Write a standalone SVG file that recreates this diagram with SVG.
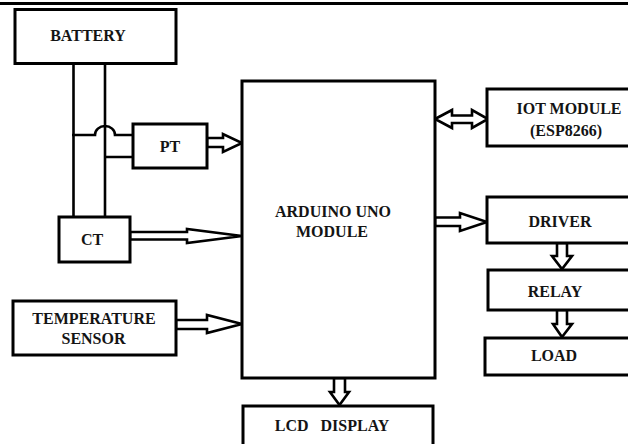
<svg xmlns="http://www.w3.org/2000/svg" width="628" height="444" viewBox="0 0 628 444">
<style>
.box{fill:#fff;stroke:#000;stroke-width:3}
.wire{fill:none;stroke:#000;stroke-width:2.6}
.arr{fill:#fff;stroke:#000;stroke-width:2.6;stroke-linejoin:miter}
text{font-family:"Liberation Serif","Times New Roman",serif;font-weight:bold;font-size:16px;fill:#141414;text-anchor:middle}
</style>
<rect width="628" height="444" fill="#fff"/>
<line x1="0" y1="3.5" x2="628" y2="3.5" stroke="#000" stroke-width="3"/>
<g id="connectors">
<path class="wire" d="M73.5,63 V217 M105,63 V217 M72,135 H95 A10,9 0 0 1 115,135 H133 M105,157 H133"/>
<polygon class="arr" points="207,138 223,138 223,134 242,143 223,152 223,147 207,147"/>
<polygon class="arr" points="130,232 187,232 187,229 242,236 187,243 187,239.5 130,239.5"/>
<polygon class="arr" points="176,320 207,320 207,315 242,324 207,333 207,329 176,329"/>
<polygon class="arr" points="435,119 452,110 452,115.5 472,115.5 472,110 488,119 472,128 472,123 452,123 452,128"/>
<polygon class="arr" points="435,217.5 460,217.5 460,213 487,222 460,231 460,226 435,226"/>
<polygon class="arr" points="557,243 567,243 567,256 572,256 562,269 552,256 557,256"/>
<polygon class="arr" points="557,310 567,310 567,324 572,324 562,337 553,324 557,324"/>
<polygon class="arr" points="334,378 345,378 345,392 349,392 339.5,405 330,392 334,392"/>
</g>
<g id="battery"><rect class="box" x="15" y="9.5" width="161" height="54"/><text x="88" y="41">BATTERY</text></g>
<g id="pt"><rect class="box" x="133" y="124" width="74" height="44"/><text x="170" y="152">PT</text></g>
<g id="ct"><rect class="box" x="59" y="217" width="71" height="45"/><text x="92" y="245">CT</text></g>
<g id="temperature-sensor"><rect class="box" x="13" y="301" width="163" height="54"/><text x="94" y="324">TEMPERATURE</text><text x="93.5" y="344">SENSOR</text></g>
<g id="arduino"><rect class="box" x="242" y="81" width="193" height="297"/><text x="333" y="217">ARDUINO UNO</text><text x="332" y="237">MODULE</text></g>
<g id="iot"><rect class="box" x="487" y="89" width="160" height="57"/><text x="569" y="114">IOT MODULE</text><text x="566" y="136">(ESP8266)</text></g>
<g id="driver"><rect class="box" x="487" y="197" width="160" height="46"/><text x="560" y="226.5">DRIVER</text></g>
<g id="relay"><rect class="box" x="488" y="270" width="160" height="40"/><text x="555" y="297">RELAY</text></g>
<g id="load"><rect class="box" x="485" y="338" width="160" height="37"/><text x="554" y="361">LOAD</text></g>
<g id="lcd"><rect class="box" x="243" y="406" width="190" height="50"/><text x="332" y="431" style="white-space:pre">LCD   DISPLAY</text></g>
</svg>
